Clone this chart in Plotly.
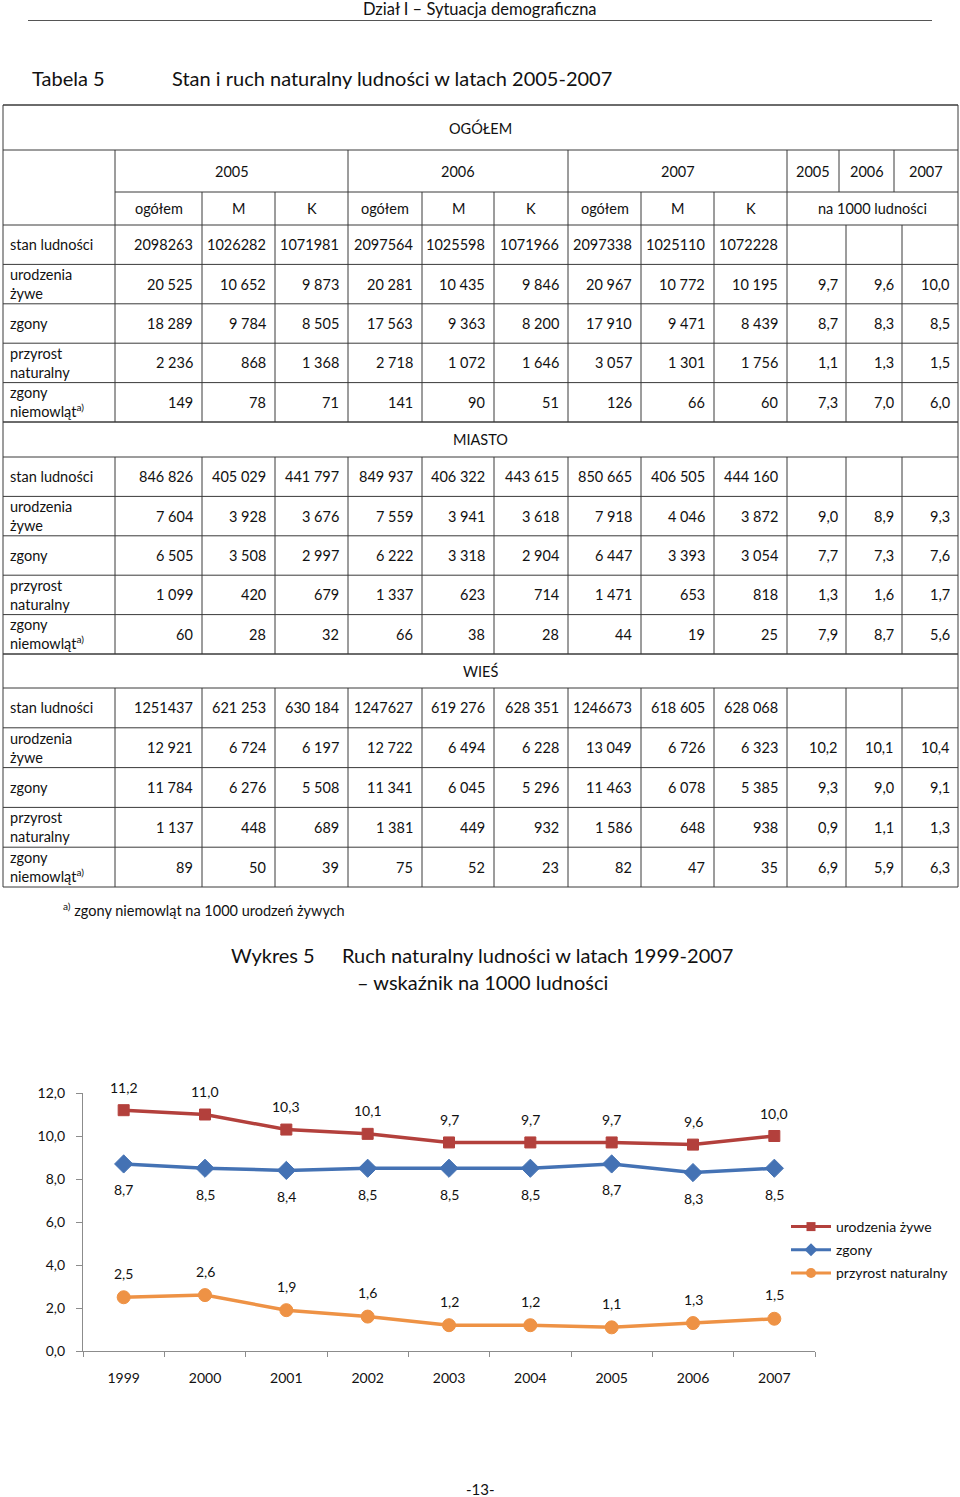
import plotly.graph_objects as go

W, H = 960, 1497
FONT = "Lato, Carlito, Calibri, sans-serif"
NARROW = "Liberation Sans Narrow, Arial Narrow, Lato, sans-serif"
INK = "#111111"
RULE = "#3a3a3a"
CELL = 14.5

# ---------------- table data ----------------
years = ["2005", "2006", "2007"]
sub_cols = ["ogółem", "M", "K"]
rate_header = "na 1000 ludności"
row_labels = ["stan ludności", "urodzenia<br>żywe", "zgony",
              "przyrost<br>naturalny", "zgony<br>niemowląt<sup>a)</sup>"]
sections = ["OGÓŁEM", "MIASTO", "WIEŚ"]

ogolem_abs = [
    [2098263, 1026282, 1071981, 2097564, 1025598, 1071966, 2097338, 1025110, 1072228],
    [20525, 10652, 9873, 20281, 10435, 9846, 20967, 10772, 10195],
    [18289, 9784, 8505, 17563, 9363, 8200, 17910, 9471, 8439],
    [2236, 868, 1368, 2718, 1072, 1646, 3057, 1301, 1756],
    [149, 78, 71, 141, 90, 51, 126, 66, 60],
]
ogolem_rate = [
    [None, None, None],
    [9.7, 9.6, 10.0],
    [8.7, 8.3, 8.5],
    [1.1, 1.3, 1.5],
    [7.3, 7.0, 6.0],
]
miasto_abs = [
    [846826, 405029, 441797, 849937, 406322, 443615, 850665, 406505, 444160],
    [7604, 3928, 3676, 7559, 3941, 3618, 7918, 4046, 3872],
    [6505, 3508, 2997, 6222, 3318, 2904, 6447, 3393, 3054],
    [1099, 420, 679, 1337, 623, 714, 1471, 653, 818],
    [60, 28, 32, 66, 38, 28, 44, 19, 25],
]
miasto_rate = [
    [None, None, None],
    [9.0, 8.9, 9.3],
    [7.7, 7.3, 7.6],
    [1.3, 1.6, 1.7],
    [7.9, 8.7, 5.6],
]
wies_abs = [
    [1251437, 621253, 630184, 1247627, 619276, 628351, 1246673, 618605, 628068],
    [12921, 6724, 6197, 12722, 6494, 6228, 13049, 6726, 6323],
    [11784, 6276, 5508, 11341, 6045, 5296, 11463, 6078, 5385],
    [1137, 448, 689, 1381, 449, 932, 1586, 648, 938],
    [89, 50, 39, 75, 52, 23, 82, 47, 35],
]
wies_rate = [
    [None, None, None],
    [10.2, 10.1, 10.4],
    [9.3, 9.0, 9.1],
    [0.9, 1.1, 1.3],
    [6.9, 5.9, 6.3],
]

# ---------------- chart data ----------------
chart_years = ["1999", "2000", "2001", "2002", "2003", "2004", "2005", "2006", "2007"]
urodzenia = [11.2, 11.0, 10.3, 10.1, 9.7, 9.7, 9.7, 9.6, 10.0]
zgony = [8.7, 8.5, 8.4, 8.5, 8.5, 8.5, 8.7, 8.3, 8.5]
przyrost = [2.5, 2.6, 1.9, 1.6, 1.2, 1.2, 1.1, 1.3, 1.5]

# ---------------- table layout (pixels) ----------------
col_edges = [3, 115, 202, 275, 348, 422, 494, 568, 641, 714, 787, 846, 902, 958]
year_rate_edges = [787, 839, 894, 958]
sec_top = [105, 422, 654]
sec_title_bottom = [150, 457, 688]
head_rows = [150, 192, 225]
data_top = [225, 457, 688]
row_h = [39.4, 39.4, 39.8]


def px(x):
    return x / W


def py(y):
    return 1 - y / H


shapes = []
annos = []


def line(x0, y0, x1, y1, color=RULE, width=1):
    shapes.append(dict(type="line", xref="paper", yref="paper",
                       x0=px(x0), y0=py(y0), x1=px(x1), y1=py(y1),
                       line=dict(color=color, width=width)))


def text(x, y, s, size=CELL, anchor="center", family=FONT, color=INK):
    annos.append(dict(xref="paper", yref="paper", x=px(x), y=py(y), text=s,
                      showarrow=False, xanchor=anchor, yanchor="middle", align=anchor,
                      font=dict(family=family, size=size, color=color)))


def fmt_int(v):
    s = f"{v:,}"
    return s.replace(",", "") if v >= 1_000_000 else s.replace(",", " ")


def fmt_rate(v):
    return f"{v:.1f}".replace(".", ",")


left, right = col_edges[0], col_edges[-1]

# page header
text(480, 9, "Dział I – Sytuacja demograficzna", size=16.5, family=NARROW)
line(28, 20.5, 932, 20.5, color="#555555", width=1.2)
text(30, 78, "Tabela 5", size=20, anchor="left")
text(170, 78, "Stan i ruch naturalny ludności w latach 2005-2007", size=20, anchor="left")

# outer frame
line(left, sec_top[0], right, sec_top[0])
line(left, sec_top[0], left, data_top[2] + 5 * row_h[2])
line(right, sec_top[0], right, data_top[2] + 5 * row_h[2])

# header rows (only for the first section)
line(left, head_rows[0], right, head_rows[0])
line(col_edges[1], head_rows[1], right, head_rows[1])
for x in [col_edges[1], col_edges[4], col_edges[7], col_edges[10]] + year_rate_edges[1:3]:
    line(x, head_rows[0], x, head_rows[1])
for x in col_edges[1:11]:
    line(x, head_rows[1], x, head_rows[2])
ymid = (head_rows[0] + head_rows[1]) / 2
for i, yr in enumerate(years):
    text((col_edges[1 + 3 * i] + col_edges[4 + 3 * i]) / 2, ymid, yr)
    text((year_rate_edges[i] + year_rate_edges[i + 1]) / 2, ymid, yr)
ymid = (head_rows[1] + head_rows[2]) / 2
for j in range(9):
    text((col_edges[1 + j] + col_edges[2 + j]) / 2, ymid, sub_cols[j % 3])
text((col_edges[10] + right) / 2, ymid, rate_header)

abs_blocks = [ogolem_abs, miasto_abs, wies_abs]
rate_blocks = [ogolem_rate, miasto_rate, wies_rate]

for s, name in enumerate(sections):
    # section title row
    line(left, sec_top[s], right, sec_top[s])
    text(480, (sec_top[s] + sec_title_bottom[s]) / 2, name)
    top = data_top[s]
    bottom = top + 5 * row_h[s]
    line(left, top, right, top)
    for x in col_edges[1:-1]:
        line(x, top, x, bottom)
    for r in range(5):
        y0 = top + r * row_h[s]
        y1 = y0 + row_h[s]
        line(left, y1, right, y1)
        yc = (y0 + y1) / 2
        text(8, yc, row_labels[r], anchor="left")
        for j, v in enumerate(abs_blocks[s][r]):
            text(col_edges[2 + j] - 7, yc, fmt_int(v), anchor="right")
        for j, v in enumerate(rate_blocks[s][r]):
            if v is not None:
                text(col_edges[11 + j] - 6, yc, fmt_rate(v), anchor="right")

text(61, 909, "<sup>a)</sup> zgony niemowląt na 1000 urodzeń żywych", anchor="left")

# chart title
text(229, 955, "Wykres 5", size=20, anchor="left")
text(340, 955, "Ruch naturalny ludności w latach 1999-2007", size=20, anchor="left")
text(355, 982, "– wskaźnik na 1000 ludności", size=20, anchor="left")

# page number
text(480, 1489, "-13-", size=15, family=NARROW)

# ---------------- chart ----------------
series = [
    ("urodzenia żywe", urodzenia, "#B3403C", "square", 11, 9, 23),
    ("zgony", zgony, "#4472B4", "diamond", 14, 10, -26),
    ("przyrost naturalny", przyrost, "#EE9245", "circle", 13, 10, 24),
]

fig = go.Figure()
for name, vals, color, symbol, size, leg_size, shift in series:
    fig.add_trace(go.Scatter(
        x=list(range(len(chart_years))), y=vals, name=name, mode="lines+markers",
        showlegend=False,
        line=dict(color=color, width=3.5),
        marker=dict(symbol=symbol, size=size, color=color,
                    line=dict(color=color, width=1)),
    ))
    # legend entry with the smaller legend symbol
    fig.add_trace(go.Scatter(
        x=[None], y=[None], name=name, mode="lines+markers", legendgroup=name,
        line=dict(color=color, width=3),
        marker=dict(symbol=symbol, size=leg_size, color=color),
    ))
    for i, v in enumerate(vals):
        annos.append(dict(xref="x", yref="y", x=i, y=v, text=fmt_rate(v),
                          showarrow=False, yshift=shift,
                          font=dict(family=FONT, size=14, color=INK)))

axis_col = "#8c8c8c"
fig.update_layout(
    template="none",
    width=W, height=H,
    margin=dict(l=0, r=0, t=0, b=0, pad=0, autoexpand=False),
    paper_bgcolor="white", plot_bgcolor="rgba(0,0,0,0)",
    separators=", ",
    font=dict(family=FONT, size=14, color=INK),
    xaxis=dict(domain=[px(83), px(815)], range=[-0.5, 8.5], automargin=False,
               tickmode="array", tickvals=list(range(len(chart_years))),
               ticktext=chart_years,
               showline=True, linecolor=axis_col, linewidth=1.2,
               ticks="", showgrid=False, zeroline=False,
               ticklabelstandoff=14,
               minor=dict(tickmode="array",
                          tickvals=[i - 0.5 for i in range(len(chart_years) + 1)],
                          ticks="outside", ticklen=5, tickcolor=axis_col,
                          showgrid=False),
               tickfont=dict(size=14, color=INK), fixedrange=True),
    yaxis=dict(domain=[py(1351), py(1093)], range=[0, 12], dtick=2, tickformat=".1f",
               automargin=False,
               showline=True, linecolor=axis_col, linewidth=1.2,
               ticks="outside", ticklen=6, tickcolor=axis_col,
               ticklabelstandoff=8, showgrid=False, zeroline=False,
               tickfont=dict(size=14, color=INK), fixedrange=True),
    showlegend=True,
    legend=dict(x=px(786), y=py(1211), xanchor="left", yanchor="top",
                traceorder="grouped", tracegroupgap=2, itemwidth=40,
                font=dict(family=FONT, size=14, color=INK),
                bgcolor="rgba(0,0,0,0)", borderwidth=0),
    shapes=shapes,
    annotations=annos,
)

fig.write_html("out.html",
               config={"displayModeBar": False},
               post_script="document.body.style.margin='0px';")
